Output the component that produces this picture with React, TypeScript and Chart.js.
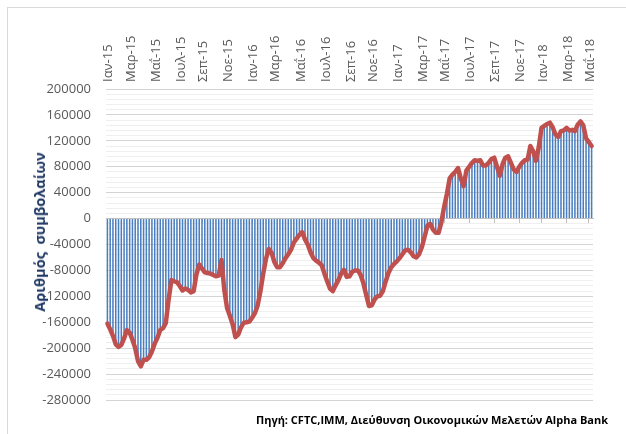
import React, { useEffect, useRef } from 'react';
import { Chart, registerables } from 'chart.js';

Chart.register(...registerables);

// Weekly CFTC observations start on this Tuesday
const START_YEAR = 2015;
const START_MONTH = 0;
const START_DAY = 6;

const monthNames = ['Ιαν', 'Φεβ', 'Μαρ', 'Απρ', 'Μαΐ', 'Ιουν', 'Ιουλ', 'Αυγ', 'Σεπ', 'Οκτ', 'Νοε', 'Δεκ'];

const tickLabels = [
  'Ιαν-15', 'Μαρ-15', 'Μαΐ-15', 'Ιουλ-15', 'Σεπ-15', 'Νοε-15',
  'Ιαν-16', 'Μαρ-16', 'Μαΐ-16', 'Ιουλ-16', 'Σεπ-16', 'Νοε-16',
  'Ιαν-17', 'Μαρ-17', 'Μαΐ-17', 'Ιουλ-17', 'Σεπ-17', 'Νοε-17',
  'Ιαν-18', 'Μαρ-18', 'Μαΐ-18',
];

// Net speculative positions (contracts), weekly
const positions2015 = [
  -162000, -171000, -181000, -194000, -198000, -195000, -185000, -172000, -176000, -187000,
  -200000, -220000, -228000, -218000, -218000, -214000, -205000, -193000, -184000, -172000,
  -169000, -161000, -125000, -95000, -97000, -98000, -104000, -111000, -108000, -110000,
  -114000, -112000, -86000, -71000, -77000, -83000, -84000, -85000, -87000, -89000,
  -88000, -64000, -110000, -138000, -150000, -163000, -183000, -179000, -168000, -161000,
  -160000, -159000,
];
const positions2016 = [
  -153000, -146000, -134000, -112000, -85000, -62000, -47000, -53000, -67000, -75000,
  -75000, -69000, -61000, -55000, -48000, -37000, -31000, -25000, -21000, -32000,
  -40000, -52000, -61000, -65000, -68000, -72000, -85000, -97000, -108000, -112000,
  -103000, -95000, -85000, -79000, -90000, -89000, -82000, -80000, -80000, -87000,
  -100000, -118000, -135000, -134000, -125000, -120000, -119000, -112000, -97000, -84000,
  -75000, -70000,
];
const positions2017 = [
  -66000, -61000, -55000, -49000, -48000, -52000, -58000, -60000, -55000, -44000,
  -28000, -11000, -8000, -17000, -22000, -22000, -6000, 18000, 38000, 62000,
  68000, 72000, 78000, 62000, 50000, 74000, 80000, 86000, 90000, 89000,
  90000, 82000, 82000, 86000, 92000, 94000, 80000, 66000, 84000, 94000,
  96000, 86000, 76000, 72000, 80000, 86000, 90000, 91000, 112000, 104000,
  89000, 110000,
];
const positions2018 = [
  140000, 143000, 146000, 148000, 141000, 130000, 126000, 135000, 136000, 140000,
  136000, 137000, 135000, 145000, 150000, 144000, 124000, 118000, 112000,
];

const yMin = -280000;
const yMax = 200000;
const yMajorStep = 40000;
const yMinorStep = 8000;

const FONT = '"Open Sans", "DejaVu Sans", sans-serif';

export default function App() {
  const canvasRef = useRef<HTMLCanvasElement | null>(null);

  useEffect(() => {
    const values = [...positions2015, ...positions2016, ...positions2017, ...positions2018];
    const weekLabels = values.map((_, i) => {
      const d = new Date(Date.UTC(START_YEAR, START_MONTH, START_DAY + 7 * i));
      return `${monthNames[d.getUTCMonth()]}-${String(d.getUTCFullYear()).slice(2)}`;
    });
    const majorSet = new Set<number>();
    weekLabels.forEach((l, i) => {
      if (tickLabels.includes(l) && (i === 0 || weekLabels[i - 1] !== l)) majorSet.add(i);
    });

    const canvas = canvasRef.current!;
    const chart = new Chart(canvas, {
      type: 'bar',
      data: {
        labels: weekLabels,
        datasets: [
          {
            type: 'line',
            data: values,
            borderColor: '#c0504d',
            borderWidth: 4.5,
            pointRadius: 0,
            tension: 0,
            borderJoinStyle: 'round',
            borderCapStyle: 'round',
            order: 0,
          } as any,
          {
            type: 'bar',
            data: values,
            backgroundColor: '#4a7ebf',
            barPercentage: 0.55,
            categoryPercentage: 1,
            order: 1,
          } as any,
        ],
      },
      options: {
        responsive: false,
        animation: false,
        layout: { padding: { left: 0, top: 0, right: 33, bottom: 34 } },
        plugins: { legend: { display: false }, tooltip: { enabled: false } },
        scales: {
          x: {
            position: 'top',
            offset: true,
            grid: { display: false, drawTicks: false },
            border: { display: false },
            ticks: {
              autoSkip: false,
              minRotation: 90,
              maxRotation: 90,
              padding: 7,
              labelOffset: 17,
              color: '#595959',
              font: { family: FONT, size: 13 },
              callback: (_v: any, i: number) => (majorSet.has(i) ? weekLabels[i] : null),
            },
            afterFit: (s: any) => {
              s.height = 89;
            },
          } as any,
          xZero: {
            type: 'category',
            axis: 'x',
            position: { y: 0 },
            offset: true,
            ticks: { display: false, autoSkip: false },
            grid: {
              drawOnChartArea: false,
              drawTicks: true,
              tickLength: 5,
              offset: false,
              color: (ctx: any) => (majorSet.has(ctx.index) ? '#bfbfbf' : 'rgba(0,0,0,0)'),
            },
            border: { display: true, color: '#bfbfbf', width: 1 },
          } as any,
          y: {
            min: yMin,
            max: yMax,
            ticks: {
              stepSize: yMinorStep,
              maxTicksLimit: 1000,
              autoSkip: false,
              padding: 15,
              color: '#595959',
              font: { family: FONT, size: 13 },
              callback: (v: any) => (Number(v) % yMajorStep === 0 ? String(v) : ''),
            },
            grid: {
              drawTicks: false,
              color: (ctx: any) =>
                ctx.tick && ctx.tick.value % yMajorStep === 0 ? '#d4d4d4' : '#efefef',
            },
            border: { display: false },
            afterFit: (s: any) => {
              s.width = 106;
            },
          } as any,
        },
      },
    });
    return () => chart.destroy();
  }, []);

  return (
    <div
      style={{
        position: 'fixed',
        left: 0,
        top: 0,
        width: 626,
        height: 434,
        overflow: 'hidden',
        background: '#ffffff',
      }}
    >
      <div
        style={{
          position: 'absolute',
          left: 7,
          top: 7,
          width: 700,
          height: 500,
          border: '1px solid #d9d9d9',
        }}
      />
      <canvas
        ref={canvasRef}
        width={626}
        height={434}
        style={{ position: 'absolute', left: 0, top: 0, width: 626, height: 434, display: 'block' }}
      />
      <div
        style={{
          position: 'absolute',
          left: 40,
          top: 232,
          transform: 'translate(-50%, -50%) rotate(-90deg)',
          whiteSpace: 'pre',
          fontFamily: FONT,
          fontWeight: 700,
          fontSize: 14.5,
          color: '#1f3864',
          lineHeight: '18px',
        }}
      >
        {'Αριθμός  συμβολαίων'}
      </div>
      <div
        style={{
          position: 'absolute',
          right: 18,
          top: 411,
          whiteSpace: 'nowrap',
          fontFamily: FONT,
          fontWeight: 700,
          fontSize: 11,
          color: '#000000',
          lineHeight: '18px',
        }}
      >
        Πηγή: CFTC,IMM, Διεύθυνση Οικονομικών Μελετών Alpha Bank
      </div>
    </div>
  );
}
